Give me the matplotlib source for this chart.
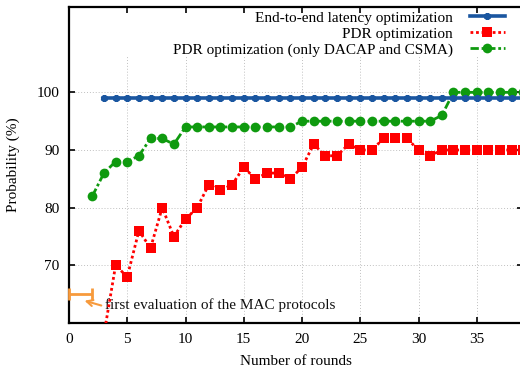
import matplotlib
matplotlib.use('Agg')
import matplotlib.pyplot as plt

# data
latency_rounds = [3, 4, 5, 6, 7, 8, 9, 10, 11, 12, 13, 14, 15, 16, 17, 18, 19, 20, 21,
                  22, 23, 24, 25, 26, 27, 28, 29, 30, 31, 32, 33, 34, 35, 36, 37, 38, 39]
latency_prob = [99, 99, 99, 99, 99, 99, 99, 99, 99, 99, 99, 99, 99, 99, 99, 99, 99, 99, 99,
                99, 99, 99, 99, 99, 99, 99, 99, 99, 99, 99, 99, 99, 99, 99, 99, 99, 99]

pdr_rounds = [3, 4, 5, 6, 7, 8, 9, 10, 11, 12, 13, 14, 15, 16, 17, 18, 19, 20, 21,
              22, 23, 24, 25, 26, 27, 28, 29, 30, 31, 32, 33, 34, 35, 36, 37, 38, 39]
pdr_prob = [58, 70, 68, 76, 73, 80, 75, 78, 80, 84, 83, 84, 87, 85, 86, 86, 85, 87, 91,
            89, 89, 91, 90, 90, 92, 92, 92, 90, 89, 90, 90, 90, 90, 90, 90, 90, 90]

dc_rounds = [2, 3, 4, 5, 6, 7, 8, 9, 10, 11, 12, 13, 14, 15, 16, 17, 18, 19, 20, 21,
             22, 23, 24, 25, 26, 27, 28, 29, 30, 31, 32, 33, 34, 35, 36, 37, 38, 39]
dc_prob = [82, 86, 88, 88, 89, 92, 92, 91, 94, 94, 94, 94, 94, 94, 94, 94, 94, 94, 95, 95,
           95, 95, 95, 95, 95, 95, 95, 95, 95, 95, 96, 100, 100, 100, 100, 100, 100, 100]

first_eval_x = [1]
first_eval_y = [65]
first_eval_xerr = [1]

x_ticks = [0, 5, 10, 15, 20, 25, 30, 35]
y_ticks = [70, 80, 90, 100]

plt.rcParams['font.family'] = ['Liberation Serif', 'DejaVu Serif']
plt.rcParams['font.size'] = 11

fig = plt.figure(figsize=(5.2, 3.74), dpi=100)
# axes run past the right edge of the picture, like the cropped reference
ax = fig.add_axes([69 / 520, 51 / 374, 454.4 / 520, 316 / 374])
ax.set_xlim(0, 39)
ax.set_ylim(60, 114.8)

# grid: horizontal full width, vertical ones stop below the key
for y in y_ticks:
    ax.axhline(y, color='#c0c0c0', lw=0.7, ls=(0, (1, 2)), zorder=0)
for x in x_ticks[1:]:
    ax.vlines(x, 60, 106.3, color='#c0c0c0', lw=0.7, ls=(0, (1, 2)), zorder=0)

ax.plot(latency_rounds, latency_prob, color='#1a56a0', lw=2.6, marker=(6, 2, 0),
        ms=5, mew=2, label='End-to-end latency optimization', zorder=3)
ax.plot(pdr_rounds, pdr_prob, color='#ff0000', lw=2, ls=(0, (1, 1)), marker='s',
        ms=6.8, mew=0, label='PDR optimization', zorder=4)
ax.plot(dc_rounds, dc_prob, color='#0f9a0f', lw=2, ls=(0, (3, 1, 1, 1)), marker='o',
        ms=7, mew=0, label='PDR optimization (only DACAP and CSMA)', zorder=2)

# first evaluation marker with arrow
orange = '#f79a3c'
ax.errorbar(first_eval_x, first_eval_y, xerr=first_eval_xerr, color=orange, lw=2,
            capsize=4.5, capthick=2, fmt='none', clip_on=False, zorder=5)
ax.annotate('', xy=(1.1, 64.0), xytext=(3.0, 62.9),
            arrowprops=dict(arrowstyle='->', color=orange, lw=1.5))
ax.text(3.05, 63.1, 'first evaluation of the MAC protocols', va='center', ha='left',
        fontsize=11, color='#111111')

ax.set_xticks(x_ticks)
ax.set_yticks(y_ticks)
ax.tick_params(direction='in', length=4, width=1.2, top=True, right=True, pad=7)
for s in ax.spines.values():
    s.set_linewidth(1.6)

ax.set_xlabel('Number of rounds', labelpad=7)
ax.set_ylabel('Probability (%)', labelpad=12)

leg = ax.legend(loc='upper right', bbox_to_anchor=(505 / 520, 1 - 11 / 374),
                bbox_transform=fig.transFigure, frameon=False, markerfirst=False,
                handlelength=2.3, handletextpad=1.1, labelspacing=0.15,
                borderpad=0, borderaxespad=0, fontsize=11)

fig.savefig('out.png', dpi=100)
